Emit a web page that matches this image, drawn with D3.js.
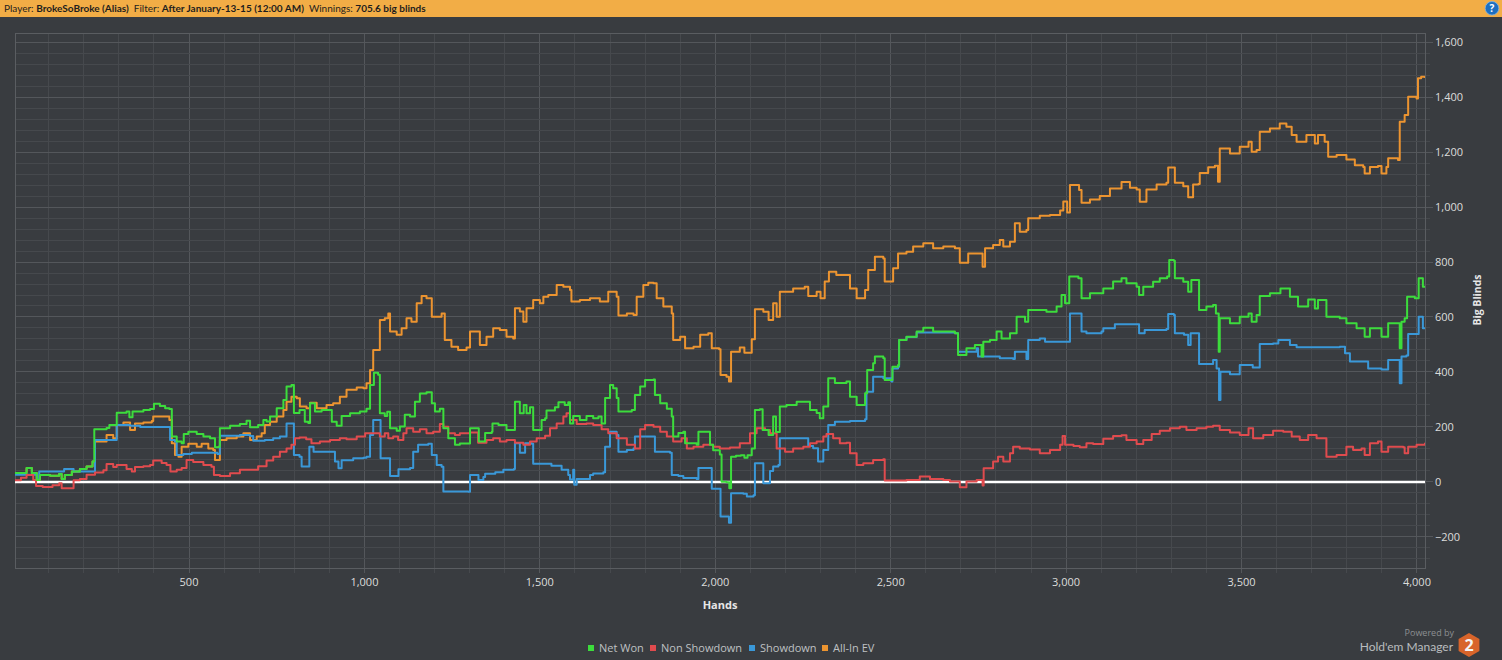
<!DOCTYPE html>
<html>
<head>
<meta charset="utf-8">
<script src="https://cdn.jsdelivr.net/npm/d3@7"></script>
<style>
  body { margin: 0; background: #393c40; overflow: hidden; }
  svg { display: block; font-family: "Open Sans", "DejaVu Sans", sans-serif; }
</style>
</head>
<body>
<svg id="chart" width="1502" height="660"></svg>
<script>
const seriesNames = ["Net Won", "Non Showdown", "Showdown", "All-In EV"];
const seriesColors = ["#3cdc3c", "#e04b4e", "#3a98d8", "#ec9430"];

// [hand, big blinds]
const netWon = [[4,33],[7,33],[37,51],[52,33],[66,7],[75,25],[104,23],[130,29],[137,11],[146,25],[166,38],[189,47],[208,56],[225,74],[230,192],[265,196],[273,207],[294,252],[322,256],[330,235],[339,256],[370,262],[389,265],[400,284],[417,276],[432,268],[444,265],[451,165],[465,147],[479,141],[485,174],[498,183],[522,174],[541,165],[560,159],[574,126],[584,128],[588,195],[617,204],[645,211],[664,223],[674,199],[697,207],[712,225],[721,220],[731,238],[750,268],[769,298],[778,347],[792,353],[799,251],[815,262],[830,219],[840,214],[845,286],[859,256],[878,262],[902,262],[907,219],[921,204],[935,240],[959,250],[987,256],[1006,266],[1016,353],[1027,397],[1039,390],[1044,250],[1058,240],[1065,255],[1073,195],[1092,186],[1101,202],[1115,244],[1130,238],[1144,292],[1158,322],[1177,326],[1192,286],[1201,256],[1215,266],[1225,195],[1239,159],[1258,135],[1272,140],[1296,140],[1301,195],[1320,195],[1326,147],[1344,178],[1363,183],[1365,213],[1382,207],[1396,207],[1405,189],[1424,189],[1429,292],[1443,250],[1454,280],[1462,250],[1472,272],[1481,189],[1505,225],[1515,232],[1519,260],[1543,272],[1553,290],[1571,280],[1581,290],[1586,213],[1595,240],[1614,225],[1633,240],[1652,232],[1667,238],[1676,213],[1686,305],[1700,353],[1709,341],[1719,305],[1724,256],[1748,256],[1762,262],[1771,316],[1786,347],[1800,371],[1824,373],[1828,316],[1843,286],[1862,266],[1876,238],[1880,165],[1895,178],[1909,183],[1914,141],[1947,135],[1952,183],[1975,183],[1985,135],[1994,115],[2013,100],[2018,1],[2032,-1],[2040,-23],[2045,92],[2059,95],[2073,97],[2083,88],[2092,97],[2104,122],[2113,262],[2127,264],[2135,189],[2152,171],[2165,238],[2173,182],[2184,274],[2203,280],[2232,292],[2260,292],[2270,262],[2289,251],[2298,232],[2308,274],[2322,377],[2341,360],[2374,365],[2384,310],[2403,280],[2427,323],[2433,407],[2450,432],[2455,456],[2479,450],[2483,371],[2498,371],[2505,419],[2521,425],[2524,516],[2545,528],[2574,547],[2593,561],[2621,547],[2650,547],[2683,541],[2692,462],[2716,486],[2740,498],[2759,456],[2764,510],[2783,516],[2802,547],[2816,522],[2840,541],[2859,601],[2883,583],[2892,625],[2925,625],[2944,619],[2973,638],[2987,680],[2997,650],[3009,747],[3035,741],[3044,668],[3068,686],[3106,704],[3134,729],[3158,741],[3172,723],[3201,710],[3208,680],[3220,710],[3248,728],[3267,741],[3288,747],[3294,807],[3307,805],[3310,741],[3334,728],[3348,692],[3357,735],[3372,735],[3379,625],[3400,638],[3419,644],[3427,613],[3435,474],[3438,595],[3467,577],[3495,601],[3520,613],[3529,583],[3543,607],[3552,676],[3581,686],[3611,704],[3638,674],[3661,638],[3690,664],[3709,631],[3718,662],[3742,601],[3780,595],[3799,577],[3828,559],[3851,528],[3866,559],[3899,528],[3918,577],[3946,577],[3951,486],[3956,583],[3965,595],[3972,674],[3994,668],[4005,741],[4017,710],[4023,706]];

const nonShowdown = [[4,6],[21,15],[37,25],[56,7],[64,-15],[83,-18],[111,-12],[130,-5],[137,-23],[166,-23],[171,6],[189,11],[208,26],[232,34],[256,43],[265,65],[284,54],[294,62],[322,47],[337,38],[346,54],[370,57],[389,62],[398,78],[422,69],[436,62],[447,38],[465,44],[479,51],[493,80],[512,73],[541,62],[564,55],[571,25],[588,22],[617,32],[645,44],[674,44],[697,57],[721,78],[740,92],[759,110],[778,122],[792,135],[802,159],[815,162],[834,155],[849,141],[873,147],[902,153],[930,159],[949,155],[978,165],[1002,177],[1016,177],[1044,165],[1058,177],[1068,159],[1082,165],[1096,153],[1111,177],[1120,195],[1139,183],[1158,192],[1177,177],[1196,183],[1215,211],[1225,201],[1239,177],[1258,171],[1272,177],[1301,180],[1324,143],[1348,153],[1367,159],[1386,147],[1405,153],[1429,143],[1453,135],[1472,147],[1491,159],[1515,168],[1529,195],[1548,213],[1567,238],[1576,250],[1586,225],[1605,211],[1633,213],[1652,207],[1676,192],[1695,177],[1719,159],[1748,135],[1771,122],[1786,192],[1800,207],[1824,201],[1843,183],[1862,165],[1880,147],[1904,159],[1919,122],[1938,128],[1966,135],[1994,128],[2013,122],[2042,125],[2070,141],[2099,177],[2118,195],[2142,189],[2156,177],[2175,122],[2199,110],[2222,122],[2251,128],[2270,141],[2289,147],[2308,165],[2317,174],[2336,159],[2355,141],[2374,143],[2384,104],[2403,62],[2422,68],[2450,80],[2479,83],[2483,5],[2517,5],[2545,7],[2583,20],[2612,11],[2650,7],[2669,2],[2697,-19],[2716,2],[2745,7],[2762,-13],[2765,50],[2792,74],[2806,92],[2821,74],[2840,104],[2849,128],[2868,122],[2897,118],[2925,104],[2954,116],[2983,135],[2990,167],[2997,135],[3021,131],[3039,126],[3058,141],[3077,138],[3106,157],[3134,167],[3158,170],[3172,153],[3201,138],[3220,153],[3244,174],[3267,186],[3296,195],[3324,201],[3343,189],[3372,195],[3400,201],[3419,204],[3438,189],[3467,180],[3495,171],[3520,195],[3533,159],[3562,171],[3590,186],[3619,183],[3643,165],[3666,153],[3690,171],[3714,159],[3728,159],[3742,92],[3771,98],[3799,128],[3818,116],[3842,122],[3851,98],[3866,141],[3889,147],[3899,110],[3918,128],[3961,126],[3965,104],[3975,128],[3999,135],[4023,143]];

const showdown = [[4,26],[61,26],[66,7],[73,38],[142,38],[144,47],[166,47],[171,38],[227,38],[232,153],[289,153],[294,207],[332,204],[361,200],[441,200],[446,153],[460,147],[465,98],[484,102],[508,106],[541,106],[581,102],[588,168],[636,168],[645,171],[674,167],[683,150],[716,153],[740,159],[759,165],[773,165],[778,213],[797,213],[799,98],[815,92],[821,56],[840,56],[843,128],[855,110],[907,110],[916,74],[926,50],[935,79],[968,86],[997,88],[1006,92],[1016,171],[1025,225],[1042,225],[1046,86],[1071,86],[1073,22],[1094,22],[1097,46],[1130,51],[1139,110],[1153,135],[1182,139],[1192,98],[1206,62],[1220,55],[1225,-35],[1296,-36],[1301,25],[1318,25],[1325,7],[1339,18],[1344,30],[1373,35],[1396,44],[1426,47],[1429,141],[1441,141],[1443,106],[1453,106],[1458,141],[1477,139],[1481,66],[1519,66],[1533,59],[1562,44],[1581,25],[1586,9],[1595,44],[1598,-10],[1605,11],[1633,11],[1643,25],[1652,31],[1681,35],[1686,128],[1700,183],[1719,171],[1724,110],[1748,116],[1767,122],[1771,165],[1824,165],[1828,110],[1871,106],[1876,25],[1895,22],[1909,14],[1947,11],[1952,51],[1975,51],[1990,-25],[2015,-126],[2032,-126],[2039,-148],[2045,-41],[2080,-43],[2090,-53],[2109,-48],[2113,68],[2132,68],[2137,-5],[2152,-5],[2156,40],[2165,56],[2180,62],[2184,159],[2260,159],[2265,131],[2279,123],[2293,74],[2303,74],[2308,116],[2319,116],[2322,207],[2341,219],[2384,222],[2427,228],[2431,328],[2445,328],[2450,383],[2479,377],[2502,365],[2505,413],[2521,419],[2524,516],[2545,527],[2574,544],[2631,544],[2683,541],[2692,474],[2745,486],[2749,456],[2811,450],[2849,447],[2854,474],[2883,474],[2887,447],[2892,516],[2925,522],[2940,510],[3006,510],[3011,613],[3039,613],[3044,547],[3058,541],[3101,547],[3106,559],[3139,574],[3201,574],[3208,541],[3224,553],[3286,556],[3291,611],[3307,607],[3310,541],[3336,535],[3348,498],[3355,541],[3372,541],[3379,429],[3419,444],[3429,413],[3436,298],[3440,401],[3467,392],[3495,425],[3524,425],[3532,416],[3552,502],[3590,504],[3605,516],[3633,516],[3638,498],[3657,490],[3723,490],[3780,492],[3795,468],[3809,438],[3861,413],[3899,409],[3918,444],[3946,444],[3951,359],[3956,456],[3970,460],[3975,538],[4000,538],[4005,601],[4017,559],[4023,559]];

const allInEV = [[4,33],[7,33],[37,51],[52,33],[66,7],[75,25],[104,23],[130,29],[137,11],[146,25],[166,38],[189,47],[208,56],[225,74],[232,147],[256,147],[265,171],[284,159],[294,207],[313,216],[332,189],[346,213],[370,216],[394,222],[398,238],[427,238],[444,225],[451,141],[460,98],[470,92],[479,128],[498,139],[522,128],[536,139],[555,122],[569,116],[574,80],[584,80],[588,153],[607,159],[636,165],[655,177],[674,153],[693,165],[707,177],[716,207],[731,219],[750,238],[769,262],[778,292],[792,310],[807,304],[816,274],[835,268],[845,288],[864,268],[892,280],[911,286],[930,310],[949,335],[978,344],[997,341],[1006,359],[1016,407],[1025,480],[1035,480],[1044,589],[1058,595],[1068,613],[1073,547],[1092,535],[1106,559],[1120,595],[1134,583],[1149,650],[1163,676],[1177,668],[1192,601],[1211,601],[1220,613],[1229,516],[1248,492],[1267,480],[1291,489],[1301,547],[1320,547],[1329,498],[1348,528],[1367,559],[1386,553],[1405,528],[1424,522],[1429,632],[1443,620],[1453,583],[1462,632],[1481,662],[1500,650],[1510,674],[1524,680],[1548,716],[1567,710],[1586,698],[1590,656],[1614,662],[1643,668],[1671,656],[1695,692],[1719,674],[1724,605],[1748,613],[1767,607],[1776,674],[1795,716],[1809,725],[1824,723],[1833,668],[1852,638],[1876,613],[1880,516],[1900,528],[1914,486],[1938,492],[1957,535],[1980,541],[1990,486],[2011,483],[2015,389],[2032,383],[2039,365],[2045,474],[2070,489],[2083,470],[2104,519],[2113,628],[2137,619],[2152,589],[2165,650],[2175,601],[2184,692],[2222,704],[2255,710],[2265,676],[2289,692],[2300,668],[2312,729],[2324,765],[2345,753],[2374,753],[2384,704],[2403,668],[2427,698],[2436,771],[2455,819],[2479,813],[2483,729],[2498,729],[2507,777],[2521,831],[2545,837],[2564,856],[2593,868],[2621,850],[2650,856],[2683,850],[2697,797],[2721,831],[2745,831],[2762,783],[2769,850],[2792,862],[2811,880],[2821,856],[2840,874],[2854,941],[2868,910],[2887,916],[2892,959],[2925,968],[2954,971],[2983,987],[2992,1020],[3003,980],[3011,1080],[3037,1062],[3044,1016],[3068,1027],[3096,1040],[3125,1067],[3158,1091],[3182,1070],[3201,1064],[3210,1019],[3229,1064],[3258,1082],[3286,1088],[3291,1144],[3307,1144],[3310,1088],[3334,1076],[3348,1036],[3362,1082],[3377,1084],[3381,1124],[3405,1145],[3424,1150],[3433,1092],[3438,1213],[3467,1195],[3495,1219],[3520,1237],[3529,1201],[3543,1207],[3552,1274],[3581,1286],[3609,1304],[3628,1292],[3643,1262],[3657,1237],[3685,1262],[3709,1231],[3718,1262],[3737,1237],[3747,1183],[3771,1189],[3799,1173],[3823,1152],[3847,1146],[3851,1122],[3866,1146],[3889,1149],[3899,1122],[3913,1146],[3918,1177],[3946,1171],[3951,1310],[3965,1335],[3975,1401],[3999,1395],[4003,1468],[4012,1474],[4023,1469]];

const xMajorTicks = [500, 1000, 1500, 2000, 2500, 3000, 3500, 4000];
const yMajorTicks = [-200, 0, 200, 400, 600, 800, 1000, 1200, 1400, 1600];
const headerParts = [["Player: ", "BrokeSoBroke (Alias)"], ["Filter: ", "After January-13-15 (12:00 AM)"], ["Winnings: ", "705.6 big blinds"]];

const W = 1502, H = 660;
const plot = { left: 15, right: 1425, top: 33, bottom: 568 };

const svg = d3.select("#chart");

const x = d3.scaleLinear().domain([4, 4023]).range([plot.left, plot.right]);
const y = d3.scaleLinear().domain([-313, 1633]).range([plot.bottom, plot.top]);

// Header bar
svg.append("rect").attr("width", W).attr("height", 17).attr("fill", "#f2ad46");
const head = svg.append("text")
  .attr("x", 4).attr("y", 12)
  .attr("font-family", "Lato, 'Open Sans', sans-serif")
  .attr("font-size", "10px")
  .attr("fill", "#1e1e1e");
headerParts.forEach((p, i) => {
  head.append("tspan").attr("dx", i ? 5 : 0).text(p[0]);
  head.append("tspan").attr("font-weight", "bold").text(p[1]);
});

// Help button
svg.append("circle").attr("cx", 1492).attr("cy", 8.3).attr("r", 6.8)
  .attr("fill", "#1d6fc0").attr("stroke", "#7fb4e6").attr("stroke-width", 0.8);
svg.append("text").attr("x", 1492).attr("y", 12)
  .attr("text-anchor", "middle").attr("font-size", "10px").attr("font-weight", "bold")
  .attr("fill", "#fff").text("?");

// Grid
const grid = svg.append("g");
const xMinor = d3.range(100, 4001, 100);
const yMinor = d3.range(-280, 1601, 40);

grid.selectAll(".gx")
  .data(xMinor)
  .join("line")
  .attr("x1", d => x(d)).attr("x2", d => x(d))
  .attr("y1", plot.top).attr("y2", plot.bottom + 5)
  .attr("stroke", d => d % 500 === 0 ? "#54575b" : "#46494d")
  .attr("stroke-width", 1)
  .attr("shape-rendering", "crispEdges");

grid.selectAll(".gy")
  .data(yMinor)
  .join("line")
  .attr("x1", plot.left).attr("x2", d => plot.right + (d % 200 === 0 ? 8 : 5))
  .attr("y1", d => y(d)).attr("y2", d => y(d))
  .attr("stroke", d => d % 200 === 0 ? "#54575b" : "#46494d")
  .attr("stroke-width", 1)
  .attr("shape-rendering", "crispEdges");

// Plot frame
svg.append("rect")
  .attr("x", plot.left).attr("y", plot.top)
  .attr("width", plot.right - plot.left).attr("height", plot.bottom - plot.top)
  .attr("fill", "none").attr("stroke", "#5a5d61").attr("shape-rendering", "crispEdges");

// Tick labels
svg.append("g").selectAll("text")
  .data(xMajorTicks)
  .join("text")
  .attr("x", d => x(d)).attr("y", 586)
  .attr("text-anchor", "middle")
  .attr("font-size", "11px").attr("fill", "#dcdcdc")
  .text(d => d3.format(",")(d));

svg.append("g").selectAll("text")
  .data(yMajorTicks)
  .join("text")
  .attr("x", plot.right + 10).attr("y", d => y(d))
  .attr("dy", "0.35em")
  .attr("font-size", "11px").attr("fill", "#dcdcdc")
  .text(d => d3.format(",")(d));

// Axis titles
svg.append("text")
  .attr("x", 720).attr("y", 609)
  .attr("text-anchor", "middle")
  .attr("font-size", "11px").attr("font-weight", "bold").attr("fill", "#e6e6e6")
  .text("Hands");

svg.append("text")
  .attr("transform", "translate(1481,300) rotate(-90)")
  .attr("text-anchor", "middle")
  .attr("font-size", "10.5px").attr("font-weight", "bold").attr("fill", "#e6e6e6")
  .text("Big Blinds");

// Zero line
svg.append("line")
  .attr("x1", plot.left).attr("x2", plot.right)
  .attr("y1", y(0)).attr("y2", y(0))
  .attr("stroke", "#ffffff").attr("stroke-width", 2.5);

// Series
svg.append("clipPath").attr("id", "clip")
  .append("rect")
  .attr("x", plot.left).attr("y", plot.top)
  .attr("width", plot.right - plot.left).attr("height", plot.bottom - plot.top);

const line = d3.line()
  .x(d => x(d[0]))
  .y(d => y(d[1]))
  .curve(d3.curveStepAfter);

const series = [netWon, nonShowdown, showdown, allInEV];
const drawOrder = [3, 2, 1, 0];

svg.append("g").attr("clip-path", "url(#clip)")
  .selectAll("path")
  .data(drawOrder)
  .join("path")
  .attr("d", i => line(series[i]))
  .attr("fill", "none")
  .attr("stroke", i => seriesColors[i])
  .attr("stroke-width", 2)
  .attr("stroke-linejoin", "round");

// Legend
const legendX = [588, 650, 749, 822];
const legend = svg.append("g");
seriesNames.forEach((name, i) => {
  legend.append("rect")
    .attr("x", legendX[i]).attr("y", 645)
    .attr("width", 6).attr("height", 6)
    .attr("fill", seriesColors[i]);
  legend.append("text")
    .attr("x", legendX[i] + 11).attr("y", 652)
    .attr("font-size", "11px").attr("fill", "#bfc1c3")
    .text(name);
});

// Branding
svg.append("text")
  .attr("x", 1454).attr("y", 636)
  .attr("text-anchor", "end")
  .attr("font-size", "9px").attr("fill", "#8c8f92")
  .text("Powered by");
svg.append("text")
  .attr("x", 1453).attr("y", 651)
  .attr("text-anchor", "end")
  .attr("font-family", "Lato, 'Open Sans', sans-serif")
  .attr("font-size", "12px").attr("fill", "#b9bcbf")
  .text("Hold'em Manager");

const hex = d3.range(6).map(k => {
  const a = Math.PI / 3 * k - Math.PI / 2;
  return [1469 + 12 * Math.cos(a), 645 + 12 * Math.sin(a)];
});
svg.append("polygon")
  .attr("points", hex.map(p => p.join(",")).join(" "))
  .attr("fill", "#d8642a");
svg.append("text")
  .attr("x", 1469).attr("y", 651)
  .attr("text-anchor", "middle")
  .attr("font-size", "16px").attr("font-weight", "bold").attr("fill", "#f4f4f4")
  .text("2");
</script>
</body>
</html>
